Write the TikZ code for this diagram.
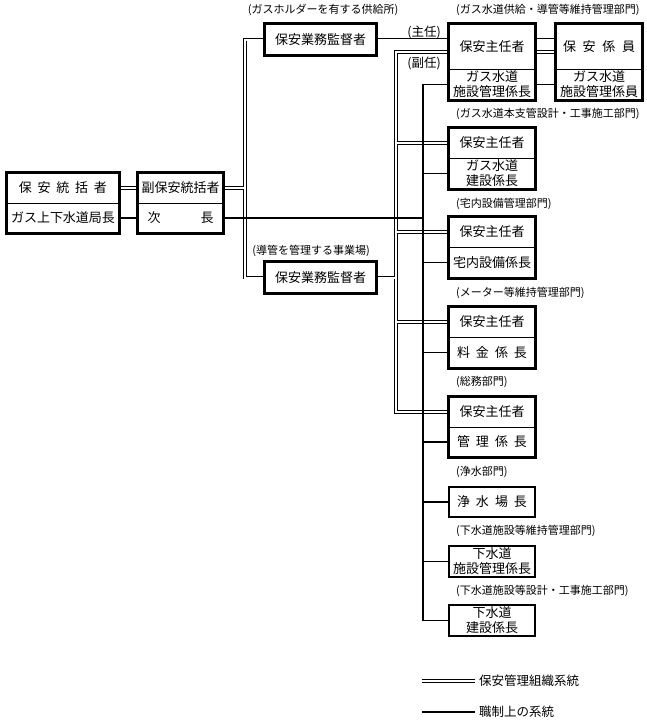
\documentclass[tikz,border=0pt]{standalone}
\usepackage{fontspec}
\setmainfont{Noto Sans CJK JP}
\newcommand\bxfont{\fontsize{13}{15}\selectfont}
\newcommand\lbfont{\fontsize{11}{12}\selectfont}
\begin{document}
\begin{tikzpicture}[x=1pt,y=-1pt,
  cell/.style={draw, line width=0.7pt, inner sep=0pt, align=center, font=\bxfont, minimum width=86pt},
  thincell/.style={cell, line width=1.3pt},
  boxrim/.style={draw, line width=3.2pt},
  dbl/.style={draw=black, double=white, double distance=2pt, line width=0.75pt},
  sgl/.style={draw=black, line width=1.7pt},
  lbl/.style={font=\lbfont, inner sep=0pt},
  rolelbl/.style={font=\fontsize{12.5}{14}\selectfont, inner sep=0pt}]
\useasboundingbox (0,0) rectangle (647,720);

% left boxes
\node[cell, minimum width=112pt, minimum height=30pt] (Aa) at (63,188) {\makebox[88pt]{保\hfill 安\hfill 統\hfill 括\hfill 者}};
\node[cell, minimum width=112pt, minimum height=30pt] (Ab) at (63,218) {ガス上下水道局長};
\node[cell, minimum width=85pt, minimum height=30pt] (Ba) at (180.5,188) {副保安統括者};
\node[cell, minimum width=85pt, minimum height=30pt] (Bb) at (180.5,218) {\makebox[66pt]{次\hfill 長}};

% supervisors
\node[cell, minimum width=111pt, minimum height=31pt] (S1) at (320.5,39.5) {保安業務監督者};
\node[cell, minimum width=111pt, minimum height=31pt] (S2) at (320.5,277.5) {保安業務監督者};

% top right pair
\node[cell, minimum height=45pt] (P1a) at (492,46.5) {保安主任者};
\node[cell, minimum height=31pt] (P1b) at (492,84.5) {ガス水道\\施設管理係長};
\node[cell, minimum height=45pt] (Q1a) at (599,46.5) {\makebox[72pt]{保\hfill 安\hfill 係\hfill 員}};
\node[cell, minimum height=31pt] (Q1b) at (599,84.5) {ガス水道\\施設管理係員};

% column
\node[cell, minimum height=30pt] (P2a) at (492,143) {保安主任者};
\node[cell, minimum height=31pt] (P2b) at (492,173.5) {ガス水道\\建設係長};
\node[cell, minimum height=30pt] (P3a) at (492,232) {保安主任者};
\node[cell, minimum height=31pt] (P3b) at (492,262.5) {宅内設備係長};
\node[cell, minimum height=30pt] (P4a) at (492,322) {保安主任者};
\node[cell, minimum height=31pt] (P4b) at (492,352.5) {\makebox[70pt]{料\hfill 金\hfill 係\hfill 長}};
\node[cell, minimum height=30pt] (P5a) at (492,412) {保安主任者};
\node[cell, minimum height=30pt] (P5b) at (492,442) {\makebox[70pt]{管\hfill 理\hfill 係\hfill 長}};
\node[thincell, minimum height=30pt] (P6) at (492,502) {\makebox[70pt]{浄\hfill 水\hfill 場\hfill 長}};
\node[thincell, minimum height=31pt] (P7) at (492,561.5) {下水道\\施設管理係長};
\node[thincell, minimum height=31pt] (P8) at (492,620.5) {下水道\\建設係長};

% labels
\node[lbl] (L0) at (323,10) {(ガスホルダーを有する供給所)};
\node[lbl, anchor=west] (L1) at (456,10) {(ガス水道供給・導管等維持管理部門)};
\node[lbl, anchor=west] (L2) at (456,114) {(ガス水道本支管設計・工事施工部門)};
\node[lbl, anchor=west] (L3) at (456,204) {(宅内設備管理部門)};
\node[lbl, anchor=west] (L4) at (456,293) {(メーター等維持管理部門)};
\node[lbl, anchor=west] (L5) at (456,382) {(総務部門)};
\node[lbl, anchor=west] (L6) at (456,472) {(浄水部門)};
\node[lbl, anchor=west] (L7) at (456,531) {(下水道施設等維持管理部門)};
\node[lbl, anchor=west] (L8) at (456,591) {(下水道施設等設計・工事施工部門)};
\node[lbl] (L9) at (311,251) {(導管を管理する事業場)};
\node[rolelbl] (R1) at (424,32) {(主任)};
\node[rolelbl] (R2) at (424,63) {(副任)};

% spine coordinates
\coordinate (sp1) at (245,0);
\coordinate (sp2) at (396,52);
\coordinate (sp3) at (423,0);

% double lines (safety organisation)
\draw[dbl]
  (Aa.east) -- (Ba.west)
  (Ba.east) -- (Ba.east -| sp1)
  (S1.west) -| (sp1 |- S2.west) -- (S2.west)
  (S1.east) -- (P1a.west |- S1.east)
  (P1a.east |- S1.east) -- (Q1a.west |- S1.east)
  (P1a.east |- sp2) -- (Q1a.west |- sp2)
  (P1a.west |- sp2) -- (sp2) -- (sp2 |- P5a.west) -- (P5a.west)
  (P2a.west) -- (P2a.west -| sp2)
  (P3a.west) -- (P3a.west -| sp2)
  (P4a.west) -- (P4a.west -| sp2)
  (S2.east) -- (S2.east -| sp2);

% single lines (official line)
\draw[sgl]
  (Ab.east) -- (Bb.west)
  (Bb.east) -- (Bb.east -| sp3)
  (P1b.west) -- (P1b.west -| sp3) -- (sp3 |- P8.west) -- (P8.west)
  (P1b.east) -- (Q1b.west)
  (P2b.west) -- (P2b.west -| sp3)
  (P3b.west) -- (P3b.west -| sp3)
  (P4b.west) -- (P4b.west -| sp3)
  (P5b.west) -- (P5b.west -| sp3)
  (P6.west) -- (P6.west -| sp3)
  (P7.west) -- (P7.west -| sp3);

% thick rims
\draw[boxrim] (Aa.north west) rectangle (Ab.south east);
\draw[boxrim] (Ba.north west) rectangle (Bb.south east);
\draw[boxrim] (S1.north west) rectangle (S1.south east);
\draw[boxrim] (S2.north west) rectangle (S2.south east);
\draw[boxrim] (P1a.north west) rectangle (P1b.south east);
\draw[boxrim] (Q1a.north west) rectangle (Q1b.south east);
\draw[boxrim] (P2a.north west) rectangle (P2b.south east);
\draw[boxrim] (P3a.north west) rectangle (P3b.south east);
\draw[boxrim] (P4a.north west) rectangle (P4b.south east);
\draw[boxrim] (P5a.north west) rectangle (P5b.south east);

% legend
\coordinate (lg1s) at (422,681);
\coordinate (lg2s) at (422,712);
\node[anchor=west, font=\fontsize{12.5}{14}\selectfont, inner sep=4pt] (lg1) at (475,681) {保安管理組織系統};
\node[anchor=west, font=\fontsize{12.5}{14}\selectfont, inner sep=4pt] (lg2) at (475,712) {職制上の系統};
\draw[dbl] (lg1s) -- (lg1.west);
\draw[sgl] (lg2s) -- (lg2.west);
\end{tikzpicture}
\end{document}
